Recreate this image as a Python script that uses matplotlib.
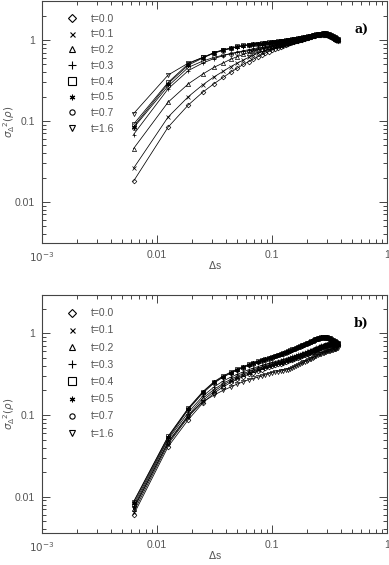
import matplotlib

matplotlib.use("Agg")

import matplotlib.pyplot as plt
from matplotlib.lines import Line2D
from matplotlib.ticker import FixedLocator, FixedFormatter, LogLocator, NullFormatter

# separation Delta s (same grid in both panels)
ds = [0.00625, 0.0125, 0.01875, 0.025, 0.03125, 0.0375, 0.04375, 0.05, 0.05625, 0.0625,
      0.06875, 0.075, 0.08125, 0.0875, 0.09375, 0.1, 0.10625, 0.1125, 0.11875, 0.125,
      0.13125, 0.1375, 0.14375, 0.15, 0.15625, 0.1625, 0.16875, 0.175, 0.18125, 0.1875,
      0.19375, 0.2, 0.20625, 0.2125, 0.21875, 0.225, 0.23125, 0.2375, 0.24375, 0.25,
      0.25625, 0.2625, 0.26875, 0.275, 0.28125, 0.2875, 0.29375, 0.3, 0.30625, 0.3125,
      0.31875, 0.325, 0.33125, 0.3375, 0.34375, 0.35, 0.35625, 0.3625, 0.36875, 0.375]

labels = ["t=0.0", "t=0.1", "t=0.2", "t=0.3", "t=0.4", "t=0.5", "t=0.7", "t=1.6"]

# panel a)
a_t00 = [0.018, 0.084, 0.158, 0.227, 0.288, 0.345, 0.40, 0.45, 0.50, 0.54,
         0.58, 0.62, 0.655, 0.69, 0.72, 0.75, 0.78, 0.805, 0.83, 0.855,
         0.875, 0.895, 0.915, 0.935, 0.95, 0.965, 0.98, 0.995, 1.01, 1.025,
         1.04, 1.055, 1.07, 1.085, 1.10, 1.11, 1.12, 1.13, 1.14, 1.15,
         1.155, 1.16, 1.165, 1.17, 1.17, 1.165, 1.16, 1.15, 1.14, 1.125,
         1.11, 1.095, 1.08, 1.065, 1.05, 1.035, 1.02, 1.005, 0.99, 0.975]
a_t01 = [0.026, 0.112, 0.20, 0.28, 0.35, 0.41, 0.47, 0.52, 0.565, 0.61,
         0.65, 0.685, 0.715, 0.745, 0.77, 0.795, 0.82, 0.84, 0.86, 0.88,
         0.90, 0.915, 0.93, 0.945, 0.96, 0.975, 0.99, 1.005, 1.02, 1.035,
         1.05, 1.065, 1.08, 1.095, 1.11, 1.12, 1.13, 1.14, 1.15, 1.16,
         1.165, 1.17, 1.175, 1.18, 1.18, 1.175, 1.17, 1.16, 1.15, 1.135,
         1.12, 1.105, 1.09, 1.075, 1.06, 1.045, 1.03, 1.015, 1.0, 0.985]
a_t02 = [0.0455, 0.171, 0.288, 0.38, 0.46, 0.52, 0.58, 0.625, 0.665, 0.70,
         0.73, 0.755, 0.775, 0.795, 0.815, 0.83, 0.85, 0.865, 0.88, 0.895,
         0.91, 0.925, 0.94, 0.955, 0.97, 0.985, 1.0, 1.015, 1.03, 1.045,
         1.06, 1.075, 1.09, 1.105, 1.12, 1.13, 1.14, 1.15, 1.16, 1.17,
         1.18, 1.185, 1.19, 1.195, 1.195, 1.19, 1.185, 1.175, 1.165, 1.15,
         1.135, 1.12, 1.105, 1.09, 1.075, 1.06, 1.045, 1.03, 1.015, 1.0]
a_t03 = [0.068, 0.25, 0.42, 0.52, 0.59, 0.64, 0.68, 0.71, 0.735, 0.76,
         0.78, 0.80, 0.815, 0.83, 0.845, 0.86, 0.875, 0.89, 0.905, 0.92,
         0.935, 0.95, 0.965, 0.98, 0.995, 1.01, 1.025, 1.04, 1.055, 1.07,
         1.085, 1.10, 1.115, 1.13, 1.14, 1.15, 1.16, 1.17, 1.18, 1.19,
         1.195, 1.20, 1.205, 1.21, 1.21, 1.205, 1.20, 1.19, 1.18, 1.165,
         1.15, 1.135, 1.12, 1.105, 1.09, 1.075, 1.06, 1.045, 1.03, 1.015]
a_t04 = [0.091, 0.30, 0.51, 0.61, 0.70, 0.76, 0.80, 0.835, 0.86, 0.88,
         0.895, 0.905, 0.915, 0.925, 0.935, 0.945, 0.955, 0.965, 0.975, 0.985,
         0.995, 1.005, 1.015, 1.025, 1.035, 1.045, 1.055, 1.065, 1.075, 1.085,
         1.095, 1.105, 1.115, 1.125, 1.135, 1.145, 1.155, 1.165, 1.175, 1.185,
         1.19, 1.20, 1.205, 1.21, 1.215, 1.215, 1.21, 1.20, 1.19, 1.175,
         1.16, 1.145, 1.13, 1.115, 1.10, 1.085, 1.07, 1.055, 1.04, 1.025]
a_t05 = [0.085, 0.29, 0.49, 0.60, 0.69, 0.75, 0.79, 0.825, 0.85, 0.87,
         0.885, 0.895, 0.905, 0.915, 0.925, 0.935, 0.945, 0.955, 0.965, 0.975,
         0.985, 0.995, 1.005, 1.015, 1.025, 1.035, 1.045, 1.055, 1.065, 1.075,
         1.085, 1.095, 1.105, 1.115, 1.125, 1.135, 1.145, 1.155, 1.165, 1.175,
         1.18, 1.19, 1.195, 1.20, 1.205, 1.205, 1.20, 1.19, 1.18, 1.165,
         1.15, 1.135, 1.12, 1.105, 1.09, 1.075, 1.06, 1.045, 1.03, 1.015]
a_t07 = [0.082, 0.27, 0.46, 0.55, 0.61, 0.65, 0.68, 0.70, 0.72, 0.735,
         0.75, 0.765, 0.78, 0.795, 0.81, 0.825, 0.84, 0.855, 0.87, 0.885,
         0.90, 0.915, 0.93, 0.945, 0.96, 0.975, 0.99, 1.005, 1.02, 1.035,
         1.05, 1.065, 1.08, 1.095, 1.11, 1.12, 1.13, 1.14, 1.15, 1.16,
         1.17, 1.175, 1.18, 1.185, 1.185, 1.18, 1.175, 1.165, 1.155, 1.14,
         1.125, 1.11, 1.095, 1.08, 1.065, 1.05, 1.035, 1.02, 1.005, 0.99]
a_t16 = [0.123, 0.37, 0.52, 0.61, 0.69, 0.745, 0.785, 0.82, 0.845, 0.865,
         0.88, 0.89, 0.90, 0.91, 0.92, 0.93, 0.94, 0.95, 0.96, 0.97,
         0.98, 0.99, 1.0, 1.01, 1.02, 1.03, 1.04, 1.05, 1.06, 1.07,
         1.08, 1.09, 1.10, 1.11, 1.12, 1.13, 1.14, 1.15, 1.16, 1.17,
         1.175, 1.18, 1.185, 1.19, 1.19, 1.185, 1.18, 1.17, 1.16, 1.145,
         1.13, 1.115, 1.10, 1.085, 1.07, 1.055, 1.04, 1.025, 1.01, 0.995]

# panel b)
b_t00 = [0.006, 0.041, 0.088, 0.14, 0.185, 0.22, 0.25, 0.275, 0.295, 0.315,
         0.33, 0.345, 0.36, 0.375, 0.385, 0.395, 0.405, 0.415, 0.425, 0.435,
         0.445, 0.455, 0.465, 0.475, 0.485, 0.495, 0.505, 0.515, 0.525, 0.535,
         0.545, 0.555, 0.565, 0.575, 0.585, 0.595, 0.605, 0.615, 0.625, 0.635,
         0.645, 0.655, 0.665, 0.675, 0.685, 0.69, 0.695, 0.70, 0.705, 0.71,
         0.715, 0.715, 0.72, 0.72, 0.72, 0.72, 0.72, 0.72, 0.715, 0.715]
b_t01 = [0.0065, 0.044, 0.095, 0.15, 0.195, 0.232, 0.262, 0.287, 0.308, 0.327,
         0.343, 0.358, 0.372, 0.385, 0.397, 0.408, 0.418, 0.428, 0.438, 0.448,
         0.458, 0.468, 0.478, 0.488, 0.498, 0.508, 0.518, 0.528, 0.538, 0.548,
         0.558, 0.568, 0.578, 0.588, 0.598, 0.608, 0.618, 0.628, 0.638, 0.648,
         0.658, 0.668, 0.678, 0.688, 0.697, 0.704, 0.71, 0.716, 0.72, 0.724,
         0.727, 0.73, 0.732, 0.733, 0.734, 0.734, 0.733, 0.732, 0.73, 0.728]
b_t02 = [0.007, 0.047, 0.10, 0.16, 0.205, 0.243, 0.273, 0.298, 0.32, 0.34,
         0.356, 0.371, 0.385, 0.398, 0.41, 0.421, 0.431, 0.441, 0.451, 0.461,
         0.471, 0.481, 0.491, 0.501, 0.511, 0.521, 0.531, 0.541, 0.551, 0.561,
         0.571, 0.581, 0.591, 0.601, 0.611, 0.621, 0.631, 0.641, 0.651, 0.661,
         0.671, 0.681, 0.691, 0.701, 0.71, 0.718, 0.725, 0.731, 0.736, 0.74,
         0.743, 0.745, 0.746, 0.746, 0.745, 0.744, 0.742, 0.74, 0.737, 0.734]
b_t03 = [0.0075, 0.05, 0.108, 0.17, 0.22, 0.26, 0.29, 0.315, 0.338, 0.358,
         0.375, 0.39, 0.404, 0.417, 0.429, 0.44, 0.451, 0.461, 0.471, 0.481,
         0.491, 0.501, 0.511, 0.521, 0.531, 0.541, 0.551, 0.561, 0.571, 0.581,
         0.591, 0.601, 0.611, 0.621, 0.631, 0.641, 0.651, 0.661, 0.671, 0.681,
         0.691, 0.701, 0.711, 0.72, 0.728, 0.735, 0.741, 0.746, 0.75, 0.753,
         0.755, 0.756, 0.756, 0.755, 0.754, 0.752, 0.75, 0.747, 0.744, 0.74]
b_t04 = [0.0087, 0.055, 0.122, 0.193, 0.255, 0.30, 0.335, 0.365, 0.39, 0.415,
         0.435, 0.455, 0.47, 0.485, 0.50, 0.515, 0.53, 0.545, 0.56, 0.575,
         0.59, 0.605, 0.62, 0.635, 0.65, 0.665, 0.68, 0.695, 0.71, 0.725,
         0.74, 0.755, 0.77, 0.785, 0.80, 0.815, 0.83, 0.845, 0.855, 0.865,
         0.875, 0.885, 0.895, 0.90, 0.905, 0.905, 0.90, 0.895, 0.885, 0.875,
         0.865, 0.85, 0.835, 0.82, 0.805, 0.795, 0.785, 0.775, 0.765, 0.755]
b_t05 = [0.0085, 0.054, 0.12, 0.19, 0.25, 0.295, 0.33, 0.36, 0.385, 0.41,
         0.43, 0.45, 0.465, 0.48, 0.495, 0.51, 0.525, 0.54, 0.555, 0.57,
         0.585, 0.60, 0.615, 0.63, 0.645, 0.66, 0.675, 0.69, 0.705, 0.72,
         0.735, 0.75, 0.765, 0.78, 0.795, 0.81, 0.825, 0.84, 0.85, 0.86,
         0.87, 0.88, 0.89, 0.895, 0.90, 0.90, 0.895, 0.89, 0.88, 0.87,
         0.86, 0.845, 0.83, 0.815, 0.80, 0.79, 0.78, 0.77, 0.76, 0.75]
b_t07 = [0.008, 0.052, 0.117, 0.185, 0.245, 0.29, 0.325, 0.355, 0.38, 0.405,
         0.425, 0.445, 0.46, 0.475, 0.49, 0.505, 0.52, 0.535, 0.55, 0.565,
         0.58, 0.595, 0.61, 0.625, 0.64, 0.655, 0.67, 0.685, 0.70, 0.715,
         0.73, 0.745, 0.76, 0.775, 0.79, 0.805, 0.82, 0.83, 0.84, 0.85,
         0.86, 0.87, 0.875, 0.88, 0.885, 0.885, 0.88, 0.875, 0.865, 0.855,
         0.845, 0.83, 0.815, 0.80, 0.79, 0.78, 0.77, 0.76, 0.75, 0.74]
b_t16 = [0.0072, 0.046, 0.098, 0.145, 0.175, 0.20, 0.22, 0.24, 0.255, 0.27,
         0.28, 0.29, 0.30, 0.31, 0.32, 0.33, 0.335, 0.34, 0.345, 0.35,
         0.355, 0.36, 0.37, 0.38, 0.39, 0.40, 0.41, 0.42, 0.43, 0.44,
         0.45, 0.46, 0.47, 0.48, 0.49, 0.50, 0.51, 0.52, 0.53, 0.54,
         0.55, 0.555, 0.56, 0.57, 0.58, 0.585, 0.59, 0.60, 0.605, 0.61,
         0.615, 0.62, 0.625, 0.63, 0.635, 0.64, 0.645, 0.65, 0.655, 0.66]

panel_a = [a_t00, a_t01, a_t02, a_t03, a_t04, a_t05, a_t07, a_t16]
panel_b = [b_t00, b_t01, b_t02, b_t03, b_t04, b_t05, b_t07, b_t16]

markers = ["D", "x", "^", "+", "s", (6, 2, 0), "o", "v"]
msizes = [2.4, 2.8, 3.0, 3.4, 2.8, 3.2, 2.8, 3.0]
leg_sizes = [4.2, 3.6, 5.0, 5.5, 5.2, 4.0, 3.8, 5.0]

GREY = "#555555"
plt.rcParams["font.family"] = ["Liberation Sans", "DejaVu Sans"]
plt.rcParams["mathtext.fontset"] = "dejavusans"

fig = plt.figure(figsize=(3.89, 5.65), dpi=100)
ax_a = fig.add_axes([42 / 389, 1 - 243 / 565, 345 / 389, 242 / 565])
ax_b = fig.add_axes([42 / 389, 1 - 533 / 565, 345 / 389, 238 / 565])


def draw_panel(ax, series, tag, ylim, leg_top, leg_space):
    for vals, mk, ms in zip(series, markers, msizes):
        ax.plot(ds, vals, color="black", linewidth=0.55, marker=mk, markersize=ms,
                markerfacecolor="none", markeredgecolor="black", markeredgewidth=0.5)

    ax.set_xscale("log")
    ax.set_yscale("log")
    ax.set_xlim(1e-3, 1)
    ax.set_ylim(*ylim)

    ax.xaxis.set_major_locator(FixedLocator([1e-3, 1e-2, 1e-1, 1]))
    ax.xaxis.set_major_formatter(FixedFormatter([r"$10^{-3}$", "0.01", "0.1", "1"]))
    ax.xaxis.set_minor_locator(LogLocator(base=10, subs=range(2, 10)))
    ax.xaxis.set_minor_formatter(NullFormatter())
    ax.yaxis.set_major_locator(FixedLocator([0.01, 0.1, 1]))
    ax.yaxis.set_major_formatter(FixedFormatter(["0.01", "0.1", "1"]))
    ax.yaxis.set_minor_locator(LogLocator(base=10, subs=range(2, 10)))
    ax.yaxis.set_minor_formatter(NullFormatter())

    ax.tick_params(which="both", direction="in", top=True, right=True,
                   colors="#444444", labelcolor=GREY, labelsize=7.5, width=0.7)
    ax.tick_params(which="major", length=6, pad=5)
    ax.tick_params(which="minor", length=3)
    for sp in ax.spines.values():
        sp.set_color("#444444")
        sp.set_linewidth(0.8)

    ax.set_xlabel(r"$\Delta$s", color=GREY, fontsize=7.5, va="top")
    ax.xaxis.set_label_coords(0.5, -0.068)
    ax.set_ylabel(r"$\sigma_\Delta{}^2(\rho)$", color=GREY, fontsize=7.5)
    ax.yaxis.set_label_coords(-0.072, 0.5)

    handles = [Line2D([], [], linestyle="none", marker=mk, markersize=ls,
                      markerfacecolor="none", markeredgecolor="black", markeredgewidth=0.8)
               for mk, ls in zip(markers, leg_sizes)]
    leg = ax.legend(handles, labels, loc="upper left", bbox_to_anchor=(0.06, leg_top),
                    frameon=False, fontsize=7.5, labelspacing=leg_space, handlelength=1.0,
                    handletextpad=1.3, borderaxespad=0)
    for txt in leg.get_texts():
        txt.set_color(GREY)

    ax.text(0.925, 0.88, tag, transform=ax.transAxes, ha="center", va="center",
            fontsize=9, fontweight="bold", family=["DejaVu Serif"])


draw_panel(ax_a, panel_a, "a)", (0.0031, 3.04), 0.965, 0.55)
draw_panel(ax_b, panel_b, "b)", (0.0036, 2.94), 0.962, 0.69)

fig.savefig("out.png", dpi=100)
